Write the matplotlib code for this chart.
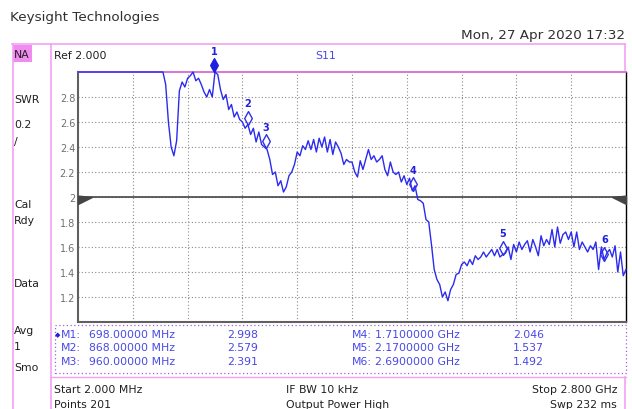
import matplotlib.pyplot as plt
import numpy as np
from matplotlib.patches import Rectangle
from matplotlib.lines import Line2D
from matplotlib.path import Path

# sweep settings
f_start = 2.0      # MHz
f_stop = 2800.0    # MHz
n_points = 201

# S11 SWR trace (201 points)
swr = [
    3.0, 3.0, 3.0, 3.0, 3.0, 3.0, 3.0, 3.0, 3.0, 3.0,
    3.0, 3.0, 3.0, 3.0, 3.0, 3.0, 3.0, 3.0, 3.0, 3.0,
    3.0, 3.0, 3.0, 3.0, 3.0, 3.0, 3.0, 3.0, 3.0, 3.0,
    3.0, 3.0, 2.9, 2.6, 2.4, 2.33, 2.45, 2.85, 2.92, 2.88,
    2.95, 2.97, 3.0, 2.93, 2.95, 2.9, 2.84, 2.8, 2.86, 2.8,
    3.0, 2.98, 2.86, 2.78, 2.82, 2.7, 2.74, 2.64, 2.68, 2.62,
    2.6, 2.55, 2.58, 2.5, 2.55, 2.44, 2.52, 2.42, 2.4, 2.38,
    2.3, 2.18, 2.2, 2.09, 2.13, 2.04, 2.08, 2.17, 2.2, 2.26,
    2.36, 2.33, 2.41, 2.38, 2.45, 2.38, 2.46, 2.36, 2.47, 2.4,
    2.48, 2.36, 2.46, 2.34, 2.44, 2.4, 2.35, 2.26, 2.3, 2.28,
    2.28, 2.2, 2.16, 2.29, 2.22, 2.3, 2.38, 2.3, 2.33, 2.28,
    2.3, 2.33, 2.22, 2.17, 2.28, 2.2, 2.18, 2.2, 2.12, 2.17,
    2.1, 2.15, 2.05, 2.09, 1.98, 1.97, 1.95, 1.82, 1.8, 1.62,
    1.42, 1.34, 1.3, 1.2, 1.24, 1.17, 1.26, 1.3, 1.38, 1.39,
    1.46, 1.48, 1.45, 1.5, 1.46, 1.53, 1.5, 1.52, 1.56, 1.52,
    1.55, 1.58, 1.53, 1.58, 1.52, 1.54, 1.55, 1.6, 1.5, 1.62,
    1.56, 1.64, 1.58, 1.62, 1.65, 1.56, 1.66, 1.6, 1.53, 1.69,
    1.61, 1.66, 1.62, 1.74, 1.6, 1.76, 1.63, 1.7, 1.72, 1.66,
    1.72, 1.6, 1.72, 1.58, 1.64, 1.6, 1.56, 1.61, 1.58, 1.64,
    1.42, 1.6, 1.5, 1.55, 1.58, 1.52, 1.61, 1.4, 1.56, 1.37,
    1.42,
]

# markers
marker_freq = [698.0, 868.0, 960.0, 1710.0, 2170.0, 2690.0]   # MHz
marker_val = [2.998, 2.579, 2.391, 2.046, 1.537, 1.492]

y_ticks = [1.2, 1.4, 1.6, 1.8, 2.0, 2.2, 2.4, 2.6, 2.8]
y_ticklabels = ["1.2", "1.4", "1.6", "1.8", "2", "2.2", "2.4", "2.6", "2.8"]

side_labels = ["SWR", "0.2", "/", "Cal", "Rdy", "Data", "Avg", "1", "Smo"]
side_y = [100, 125, 142, 205, 221, 284, 331, 347, 368]

W, H = 632, 410
TRACE = "#2b2bef"
MTEXT = "#4848e8"
PINK = "#f2a2f2"


def fx(x):
    return x / W


def fy(y):
    return 1 - y / H


fig = plt.figure(figsize=(W / 100, H / 100), dpi=100)
ax = fig.add_axes([fx(78), fy(323), 548 / W, 250 / H])

freq = np.linspace(f_start, f_stop, n_points)
ax.plot(freq, np.minimum(swr, 3.0), color=TRACE, lw=1.0, zorder=4, clip_on=False)

ax.set_xlim(f_start, f_stop)
ax.set_ylim(1.0, 3.0)
ax.set_xticks(np.linspace(f_start, f_stop, 11)[1:-1])
ax.set_xticklabels([])
ax.set_yticks(y_ticks)
ax.set_yticklabels(y_ticklabels, fontsize=7, color="#707070")
ax.tick_params(length=0, pad=2)
ax.grid(True, color="#8a8a8a", lw=0.8, linestyle=(0, (1, 2)))
ax.set_axisbelow(True)

for s in ["left", "bottom"]:
    ax.spines[s].set_color("#606060")
    ax.spines[s].set_linewidth(1.5)
ax.spines["right"].set_color("black")
ax.spines["right"].set_linewidth(1.0)
ax.spines["top"].set_color("#d060d0")
ax.spines["top"].set_linewidth(1.2)

# reference line at 2.0 with the end triangles
ax.axhline(2.0, color="#454545", lw=1.2, zorder=3)
tri_l = Path([(0, 0.1), (1, 0), (0, -0.5), (0, 0.1)])
tri_r = Path([(0, 0.1), (-1, 0), (0, -0.5), (0, 0.1)])
ax.plot([f_start], [2.0], marker=tri_l, ms=20, color="#454545", clip_on=False, zorder=5)
ax.plot([f_stop], [2.0], marker=tri_r, ms=20, color="#454545", clip_on=False, zorder=5)

# marker diamonds sitting on the trace
diamond = Path([(0, 0), (0.55, 1), (0, 2), (-0.55, 1), (0, 0)])
for k, (f, v) in enumerate(zip(marker_freq, marker_val)):
    if k == 0:
        ax.plot([f], [v], marker=diamond, ms=20, color="#1f1fe0", mec="#1f1fe0",
                clip_on=False, zorder=6)
    else:
        ax.plot([f], [v], marker=diamond, ms=20, mfc="none", mec="#3030e8",
                mew=1.0, clip_on=False, zorder=6)
    ax.annotate(str(k + 1), (f, v), xytext=(0, 15.5), textcoords="offset points",
                ha="center", va="center", fontsize=7, fontweight="bold",
                color="#2020e0", annotation_clip=False, zorder=7)

# ---- screen furniture ----
fig.text(fx(10), fy(18), "Keysight Technologies", fontsize=9.7, color="#303030",
         ha="left", va="center")
fig.text(fx(625), fy(35), "Mon, 27 Apr 2020 17:32", fontsize=9.7, color="#303030",
         ha="right", va="center")

def line(x0, y0, x1, y1, **kw):
    fig.add_artist(Line2D([fx(x0), fx(x1)], [fy(y0), fy(y1)], transform=fig.transFigure, **kw))

line(12, 45, 625, 45, color=PINK, lw=1.2)
line(12.5, 45, 12.5, 410, color=PINK, lw=1.2)
line(51, 45, 51, 410, color=PINK, lw=1.2)
line(625, 45, 625, 71, color=PINK, lw=1.2)
line(51, 378, 626, 378, color=PINK, lw=1.0)
line(625, 378, 625, 410, color=PINK, lw=1.2)

fig.add_artist(Rectangle((fx(13), fy(63)), 19 / W, 17 / H, transform=fig.transFigure,
                         color="#f08cf0", lw=0))
fig.text(fx(14), fy(55), "NA", fontsize=7.8, color="#202020", ha="left", va="center")
for lab, yy in zip(side_labels, side_y):
    fig.text(fx(14), fy(yy), lab, fontsize=7.8, color="#202020", ha="left", va="center")

fig.text(fx(54), fy(56), "Ref 2.000", fontsize=7.8, color="#202020", ha="left", va="center")
fig.text(fx(315), fy(56), "S11", fontsize=7.8, color=MTEXT, ha="left", va="center")

# marker table
fig.add_artist(Rectangle((fx(55), fy(374)), 571 / W, 48 / H, transform=fig.transFigure,
                         fill=False, ec="#a060e0", lw=0.9, linestyle=(0, (1, 2))))
for k, (f, v) in enumerate(zip(marker_freq, marker_val)):
    row = k % 3
    yy = 335 + row * 13.5
    if k < 3:
        xs = (56, 89, 227)
        ftxt = f"{f:.5f} MHz"
    else:
        xs = (347, 375, 513)
        ftxt = f"{f / 1000:.7f} GHz"
    name = f"M{k + 1}:"
    if k == 0:
        fig.text(fx(xs[0] - 1), fy(yy), "\u25c6", fontsize=5, color="#2020e0",
                 ha="left", va="center")
        fig.text(fx(xs[0] + 5), fy(yy), name, fontsize=7.8, color=MTEXT, ha="left", va="center")
    else:
        fig.text(fx(xs[0] + 5), fy(yy), name, fontsize=7.8, color=MTEXT, ha="left", va="center")
    fig.text(fx(xs[1]), fy(yy), ftxt, fontsize=7.8, color=MTEXT, ha="left", va="center")
    fig.text(fx(xs[2]), fy(yy), f"{v:.3f}", fontsize=7.8, color=MTEXT, ha="left", va="center")

# bottom status bar
fig.text(fx(54), fy(390), f"Start {f_start:.3f} MHz", fontsize=7.8, color="#202020", va="center")
fig.text(fx(54), fy(405), f"Points {n_points}", fontsize=7.8, color="#202020", va="center")
fig.text(fx(286), fy(390), "IF BW 10 kHz", fontsize=7.8, color="#202020", va="center")
fig.text(fx(286), fy(405), "Output Power High", fontsize=7.8, color="#202020", va="center")
fig.text(fx(617), fy(390), f"Stop {f_stop / 1000:.3f} GHz", fontsize=7.8, color="#202020",
         ha="right", va="center")
fig.text(fx(617), fy(405), "Swp 232 ms", fontsize=7.8, color="#202020", ha="right", va="center")

fig.savefig("out.png", dpi=100)
